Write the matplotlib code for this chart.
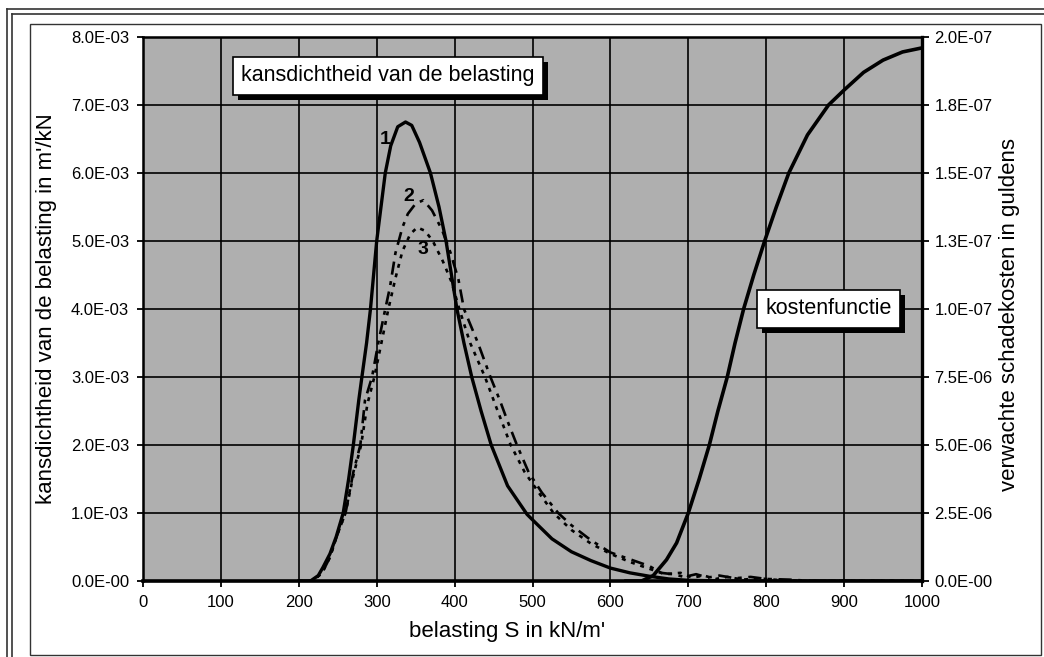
import matplotlib.pyplot as plt
from matplotlib.lines import Line2D
from matplotlib.patches import Rectangle

plt.rcParams['font.family'] = ['Liberation Sans', 'DejaVu Sans']

# belasting S (kN/m') en kansdichtheid (per kN) voor drie verdelingen
s_curve1 = [200, 215, 225, 231, 240, 248, 257, 264, 270, 277, 281, 287, 292, 300,
            311, 318, 327, 337, 345, 355, 369, 380, 389, 396, 403, 412, 422, 434,
            447, 468, 493, 500, 525, 550, 575, 600, 625, 650, 675, 700, 750, 1000]
p_curve1 = [0.0, 0.0, 0.08, 0.2, 0.4, 0.65, 1.0, 1.5, 2.0, 2.66, 3.0, 3.5, 4.0, 5.0,
            6.0, 6.4, 6.68, 6.75, 6.7, 6.45, 6.0, 5.5, 5.0, 4.5, 4.0, 3.5, 3.0, 2.5,
            2.0, 1.4, 0.98, 0.9, 0.62, 0.43, 0.3, 0.19, 0.12, 0.07, 0.03, 0.01, 0.0, 0.0]

s_curve2 = [200, 217, 230, 240, 250, 260, 270, 279, 285, 294, 302, 311, 317, 324,
            333, 340, 350, 360, 371, 384, 395, 405, 412, 430, 446, 458, 468, 480,
            495, 512, 533, 550, 575, 600, 625, 650, 665, 680, 695, 710, 725, 740,
            760, 780, 800, 830, 860, 1000]
p_curve2 = [0.0, 0.0, 0.12, 0.35, 0.7, 1.0, 1.6, 2.0, 2.66, 3.0, 3.5, 4.0, 4.32, 4.82,
            5.2, 5.4, 5.55, 5.6, 5.45, 5.16, 4.82, 4.43, 4.0, 3.5, 3.0, 2.66, 2.35, 2.0,
            1.6, 1.3, 1.0, 0.82, 0.6, 0.42, 0.32, 0.22, 0.12, 0.1, 0.06, 0.1, 0.05, 0.08,
            0.04, 0.06, 0.03, 0.02, 0.0, 0.0]

s_curve3 = [200, 218, 230, 240, 250, 260, 270, 280, 288, 297, 306, 315, 324, 333,
            343, 352, 362, 372, 385, 396, 406, 420, 439, 452, 472, 490, 508, 527,
            550, 575, 600, 625, 650, 670, 690, 705, 720, 735, 750, 770, 790, 820,
            850, 1000]
p_curve3 = [0.0, 0.0, 0.12, 0.35, 0.7, 1.0, 1.55, 2.0, 2.6, 3.0, 3.5, 4.0, 4.45, 4.85,
            5.1, 5.2, 5.15, 5.0, 4.7, 4.4, 4.0, 3.5, 3.0, 2.6, 2.0, 1.6, 1.3, 1.0,
            0.75, 0.55, 0.4, 0.28, 0.18, 0.1, 0.12, 0.05, 0.08, 0.03, 0.06, 0.02, 0.04, 0.01,
            0.0, 0.0]

# kostenfunctie: verwachte schadekosten (miljoen gulden)
s_cost = [620, 640, 655, 672, 685, 700, 714, 727, 738, 750, 760, 771, 784, 798,
          813, 829, 853, 880, 900, 925, 950, 975, 1000]
cost_mln = [0.0, 0.0, 0.2, 0.78, 1.4, 2.5, 3.75, 5.0, 6.25, 7.5, 8.75, 10.0, 11.25, 12.5,
            13.75, 15.0, 16.4, 17.5, 18.05, 18.7, 19.15, 19.45, 19.6]

x_ticks = [0, 100, 200, 300, 400, 500, 600, 700, 800, 900, 1000]
left_ticks = [0, 1, 2, 3, 4, 5, 6, 7, 8]
left_labels = ['0.0E-00', '1.0E-03', '2.0E-03', '3.0E-03', '4.0E-03',
               '5.0E-03', '6.0E-03', '7.0E-03', '8.0E-03']
right_ticks = [0, 2.5, 5, 7.5, 10, 12.5, 15, 17.5, 20]
right_labels = ['0.0E-00', '2.5E-06', '5.0E-06', '7.5E-06', '1.0E-07',
                '1.3E-07', '1.5E-07', '1.8E-07', '2.0E-07']

fig = plt.figure(figsize=(10.44, 6.57), dpi=100)
W, H = 1044, 657

# dubbele rand om de figuur
for x in (7, 12):
    fig.add_artist(Line2D([x / W, x / W], [0, 1 - (x + 2) / H], transform=fig.transFigure,
                          color='#333333', lw=1.2))
for y in (9, 14):
    fig.add_artist(Line2D([(y - 2) / W, 1], [1 - y / H, 1 - y / H], transform=fig.transFigure,
                          color='#333333', lw=1.2))
fig.add_artist(Rectangle((30 / W, 2 / H), 1011 / W, 631 / H, transform=fig.transFigure,
                         fill=False, ec='#333333', lw=1.0))

ax = fig.add_axes([143 / W, 76 / H, 779 / W, 544 / H])
ax.set_facecolor('#afafaf')
line_kw = dict(color='black', solid_joinstyle='round', dash_joinstyle='round')
ax.plot(s_curve1, [v * 1e-3 for v in p_curve1], lw=2.4, **line_kw)
ax.plot(s_curve2, [v * 1e-3 for v in p_curve2], lw=1.9,
        linestyle=(0, (5, 2.5, 1.5, 2.5)), **line_kw)
ax.plot(s_curve3, [v * 1e-3 for v in p_curve3], lw=1.9,
        linestyle=(0, (1.5, 2.2)), **line_kw)

ax.set_xlim(0, 1000)
ax.set_ylim(0, 8e-3)
ax.set_xticks(x_ticks)
ax.set_yticks([t * 1e-3 for t in left_ticks])
ax.set_yticklabels(left_labels)
ax.grid(True, color='black', lw=1.2)
ax.set_axisbelow(True)
ax.tick_params(axis='both', direction='out', length=4, width=1.3, labelsize=12, pad=6)
for side in ax.spines.values():
    side.set_linewidth(1.8)
ax.spines['bottom'].set_linewidth(2.6)

ax2 = ax.twinx()
ax2.plot(s_cost, cost_mln, lw=2.6, **line_kw)
ax2.set_ylim(0, 20)
ax2.set_yticks(right_ticks)
ax2.set_yticklabels(right_labels)
ax2.tick_params(axis='y', direction='out', length=5, width=1.3, labelsize=12, pad=4)
ax2.spines['right'].set_linewidth(2.4)

# curvenummers
for s, p, lab in [(311, 6.49, '1'), (341, 5.65, '2'), (359, 4.87, '3')]:
    ax.text(s, p * 1e-3, lab, fontsize=14, fontweight='bold', ha='center', va='center')

# tekstvakken boven beide assen; schaduw pas na het tekenen bekend
boxes = []
for s, p, text in [(314.5, 7.43e-3, 'kansdichtheid van de belasting'),
                   (880, 4.0e-3, 'kostenfunctie')]:
    boxes.append(fig.text(s, p, text, transform=ax.transData, fontsize=15.5,
                          ha='center', va='center', zorder=6,
                          bbox=dict(boxstyle='square,pad=0.4', fc='white', ec='black', lw=1.2)))

fig.text(507 / W, 1 - 631 / H, "belasting S in kN/m'", fontsize=16, ha='center', va='center')
fig.text(47 / W, 1 - 309 / H, "kansdichtheid van de belasting in m'/kN", fontsize=16,
         rotation=90, ha='center', va='center')
fig.text(1010 / W, 1 - 315 / H, 'verwachte schadekosten in guldens', fontsize=16,
         rotation=90, ha='center', va='center')

fig.canvas.draw()
inv = fig.transFigure.inverted()
for t in boxes:
    ext = t.get_bbox_patch().get_window_extent()
    (x0, y0), (x1, y1) = inv.transform([(ext.x0 + 5, ext.y0 - 5), (ext.x1 + 5, ext.y1 - 5)])
    fig.add_artist(Rectangle((x0, y0), x1 - x0, y1 - y0, transform=fig.transFigure,
                             fc='black', ec='none', zorder=5))

fig.savefig('out.png', dpi=100)
